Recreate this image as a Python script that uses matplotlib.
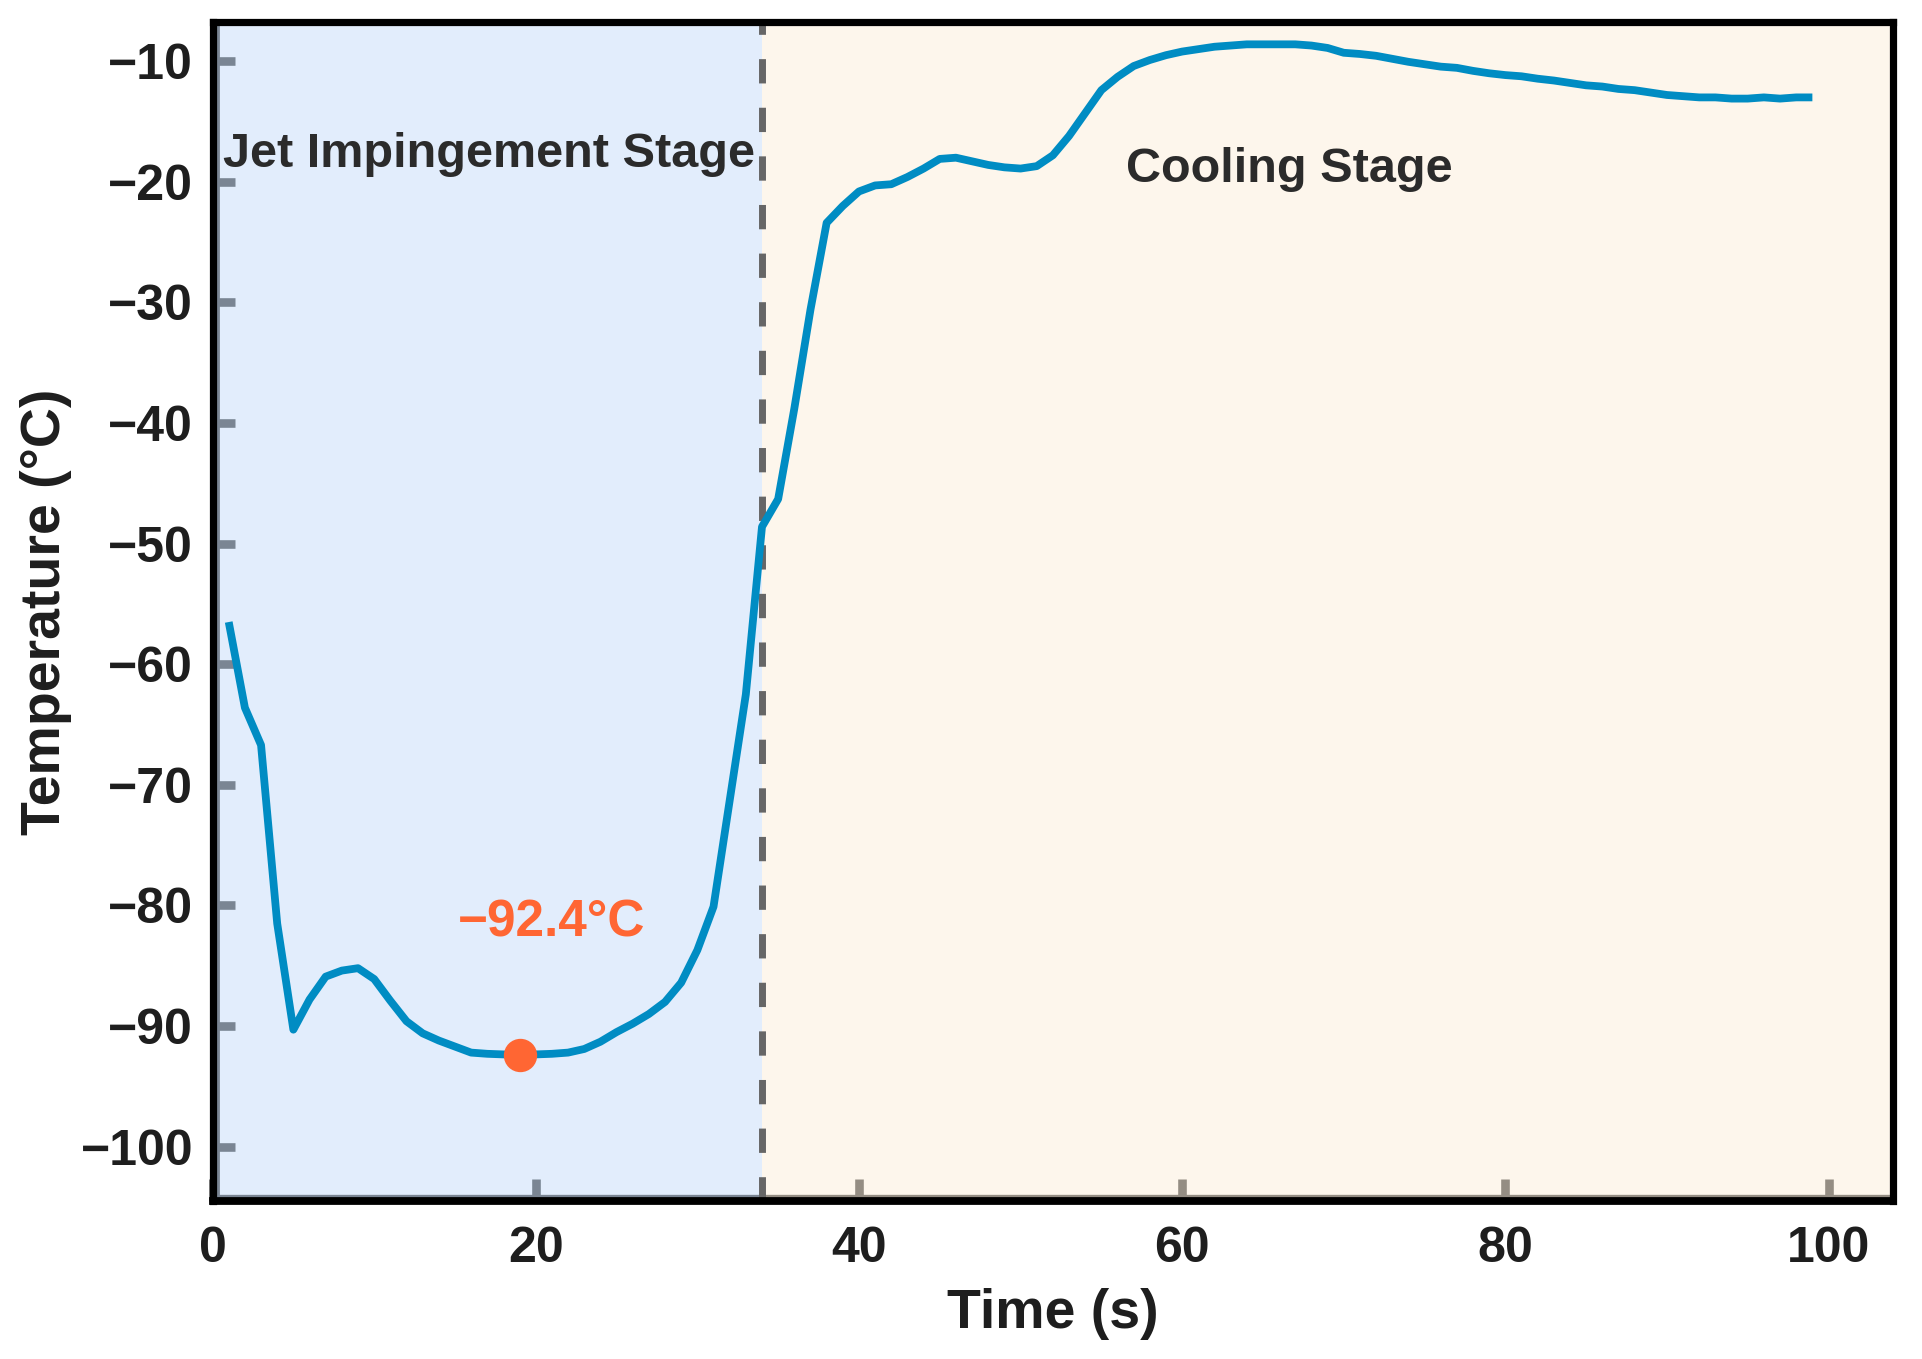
import matplotlib
matplotlib.use("Agg")
import matplotlib.pyplot as plt
import numpy as np

plt.rcParams['font.family'] = ['Liberation Sans', 'DejaVu Sans']
plt.rcParams['font.weight'] = 'bold'

# ---- data ----
time_s = list(range(1, 100))
temperature_c = [
    -56.5, -63.6, -66.7, -81.5, -90.3, -87.8, -85.9, -85.4, -85.2, -86.1,
    -87.9, -89.6, -90.6, -91.2, -91.7, -92.2, -92.3, -92.35, -92.4, -92.35,
    -92.3, -92.2, -91.9, -91.3, -90.5, -89.8, -89.0, -88.0, -86.4, -83.7,
    -80.1, -71.3, -62.5, -48.6, -46.3, -38.8, -30.6, -23.4, -22.0, -20.8,
    -20.3, -20.2, -19.6, -18.9, -18.1, -18.0, -18.3, -18.6, -18.8, -18.9,
    -18.7, -17.8, -16.2, -14.3, -12.4, -11.3, -10.4, -9.9, -9.5, -9.2,
    -9.0, -8.8, -8.7, -8.6, -8.6, -8.6, -8.6, -8.7, -8.9, -9.3,
    -9.4, -9.55, -9.8, -10.05, -10.25, -10.45, -10.55, -10.8, -11.0, -11.15,
    -11.25, -11.45, -11.6, -11.8, -12.0, -12.1, -12.3, -12.4, -12.6, -12.8,
    -12.9, -13.0, -13.0, -13.1, -13.1, -13.0, -13.1, -13.0, -13.0,
]
stage_boundary = 34
stage_labels = ["Jet Impingement Stage", "Cooling Stage"]
x_ticks = [0, 20, 40, 60, 80, 100]
y_ticks = [-100, -90, -80, -70, -60, -50, -40, -30, -20, -10]
x_limits = (0, 104)
y_limits = (-104.5, -6.75)

# ---- styling ----
line_color = '#008CC3'
min_color = '#FF6633'
gray = '#656565'
blue_span = '#A7CAF6'
beige_span = '#F9E3C4'
span_alpha = 0.32
text_dark = '#2b2b2b'

fig = plt.figure(figsize=(9.61, 6.795), dpi=200)
ax = fig.add_axes([0.1106, 0.1163, 0.8744, 0.8675])
ax.set_xlim(*x_limits)
ax.set_ylim(*y_limits)

# gray inner axis lines (under spans)
ax.axvline(x_limits[0], color=gray, lw=4.6, zorder=2.4)
ax.axhline(y_limits[0], color=gray, lw=4.8, zorder=2.4)

# stage spans
ax.axvspan(x_limits[0], stage_boundary, color=blue_span, alpha=span_alpha, lw=0, zorder=2.6)
ax.axvspan(stage_boundary, x_limits[1], color=beige_span, alpha=span_alpha, lw=0, zorder=2.6)

ax.axvline(stage_boundary, color='#666666', lw=2.5, dashes=(3.5, 3.5), zorder=2.7)

ax.plot(time_s, temperature_c, color=line_color, lw=2.8, zorder=3, solid_capstyle='butt')

# minimum marker
t_arr = np.array(temperature_c)
i_min = int(np.argmin(t_arr))
x_min, y_min = time_s[i_min], temperature_c[i_min]
ax.plot([x_min], [y_min], 'o', color=min_color, ms=11, zorder=4)
ax.text(x_min + 2, y_min + 9.8, f"\u2212{abs(y_min):.1f}\u00b0C", color=min_color,
        fontsize=18.5, fontweight='bold', ha='center', va='baseline', zorder=5)

ax.text(0.65, -18.76, stage_labels[0], color=text_dark, fontsize=17.5,
        fontweight='bold', ha='left', va='baseline', zorder=5)
ax.text(56.5, -20.0, stage_labels[1], color=text_dark, fontsize=17.5,
        fontweight='bold', ha='left', va='baseline', zorder=5)

# spines
for s in ax.spines.values():
    s.set_color('black')
    s.set_linewidth(2.6)
    s.set_zorder(2.8)
ax.spines['bottom'].set_linewidth(2.8)

ax.set_xticks(x_ticks)
ax.set_yticks(y_ticks)
ax.set_xticklabels([str(v) for v in x_ticks])
ax.set_yticklabels([f"\u2212{abs(v)}" for v in y_ticks])
ax.tick_params(axis='both', direction='in', length=8, width=3.1, color=gray,
               labelsize=18, labelcolor='#1e1e1e')
ax.tick_params(axis='x', pad=9)
ax.tick_params(axis='y', pad=7)
for lab in ax.get_xticklabels() + ax.get_yticklabels():
    lab.set_fontweight('bold')

ax.set_xlabel("Time (s)", fontsize=20, fontweight='bold', color='#1e1e1e')
ax.set_ylabel("Temperature (\u00b0C)", fontsize=20, fontweight='bold', color='#1e1e1e')
ax.xaxis.set_label_coords(0.5, -0.074)
ax.yaxis.set_label_coords(-0.0835, 0.5)

fig.savefig("out.png", dpi=200, facecolor='white')
